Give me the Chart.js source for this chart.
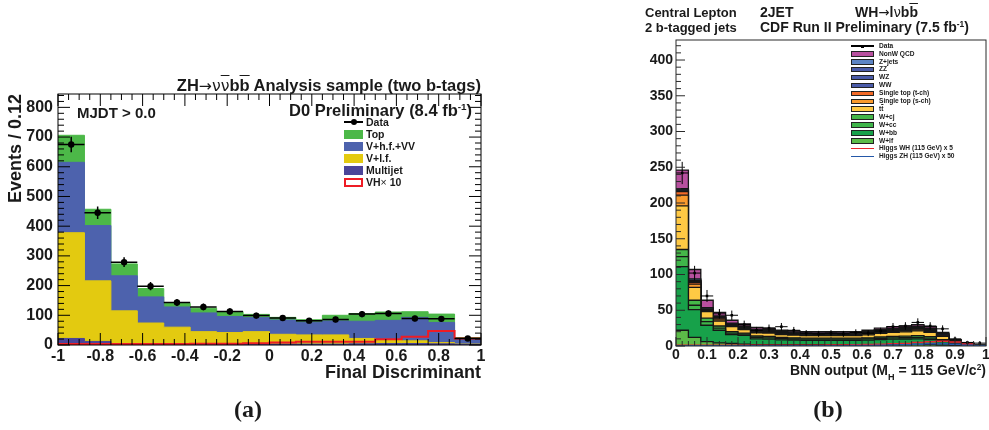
<!DOCTYPE html>
<html lang="en">
<head>
<meta charset="UTF-8">
<title>ZH / WH final discriminants</title>
<script src="https://cdn.jsdelivr.net/npm/chart.js"></script>
<style>
    body {
        margin: 0;
        background: #fff;
        font-family: 'Liberation Sans', Arial, sans-serif;
        color: #1a1a1a;
    }
    #page { position: relative; width: 989px; height: 430px; overflow: hidden; }
    canvas { position: absolute; top: 0; }
    #dz { left: 0; }
    #cdf { left: 600px; }
    .txt { position: absolute; font-weight: bold; line-height: 1; white-space: nowrap; }
    .thin { font-weight: normal; }
    .sy { font-family: 'DejaVu Sans', sans-serif; font-weight: normal; font-size: 0.95em; }
    .ov { text-decoration: overline; }
    sup { font-size: 0.6em; vertical-align: 0.6em; line-height: 0; }
    sub { font-size: 0.65em; vertical-align: -0.55em; line-height: 0; }
    .panel {
        position: absolute; width: 80px; text-align: center; line-height: 1;
        font-family: 'Liberation Serif', serif; font-weight: bold; font-size: 24px;
    }
    .sym { position: absolute; box-sizing: border-box; }
</style>
</head>
<body>
<div id="page">
    <canvas id="dz" width="490" height="430" style="width:490px;height:430px"></canvas>
    <canvas id="cdf" width="391" height="430" style="width:391px;height:430px"></canvas>

    <!-- left panel texts -->
    <div class="txt" style="right:508px;top:77px;font-size:16.5px">ZH<span class="sy">&rarr;&nu;<span class="ov">&nu;</span></span>b<span class="ov">b</span> Analysis sample (two b-tags)</div>
    <div class="txt" style="left:77px;top:105px;font-size:15px">MJDT &gt; 0.0</div>
    <div class="txt" style="right:517px;top:102px;font-size:16.5px">D0 Preliminary (8.4 fb<sup>-1</sup>)</div>
    <div class="panel" style="left:208px;top:397px">(a)</div>

    <!-- right panel texts -->
    <div class="txt" style="left:645px;top:6px;font-size:13px">Central Lepton</div>
    <div class="txt" style="left:645px;top:21px;font-size:13px">2 b-tagged jets</div>
    <div class="txt" style="left:760px;top:5px;font-size:14px">2JET</div>
    <div class="txt" style="left:855px;top:5px;font-size:14px">WH<span class="sy">&rarr;</span>l<span class="sy">&nu;</span>b<span class="ov">b</span></div>
    <div class="txt" style="left:760px;top:20px;font-size:14px">CDF Run II Preliminary (7.5 fb<sup>-1</sup>)</div>
    <div class="txt" style="right:3px;top:363px;font-size:14px">BNN output (M<sub>H</sub> = 115 GeV/c<sup>2</sup>)</div>
    <div class="panel" style="left:788px;top:397px">(b)</div>
</div>

<script>
    Chart.defaults.font.family = "'Liberation Sans', Arial, sans-serif";
    Chart.defaults.color = '#1a1a1a';

    // ---- D0 ZH -> vvbb, 16 bins from -1 to 1 ----
    const dzLow = -1, dzWidth = 0.125;
    const dzXTicks = [-1, -0.8, -0.6, -0.4, -0.2, 0, 0.2, 0.4, 0.6, 0.8, 1];
    const dzYTicks = [0, 100, 200, 300, 400, 500, 600, 700, 800];
    const dzData     = [675, 445, 279, 198, 143, 128, 113, 99, 91, 82, 86, 104, 106, 89, 88, 22];
    const dzMultijet = [22, 12, 5, 4, 4, 3, 3, 3, 3, 3, 3, 4, 5, 5, 4, 2];
    const dzVlf      = [356, 204, 110, 70, 56, 42, 39, 42, 33, 31, 31, 18, 12, 9, 4, 1];
    const dzVhf      = [237, 186, 118, 88, 68, 63, 54, 47, 48, 43, 47, 58, 66, 79, 68, 17];
    const dzTop      = [91, 55, 40, 28, 12, 16, 16, 11, 9, 8, 19, 26, 28, 19, 28, 5];
    const dzVH10     = [3, 3, 3, 3, 3, 4, 4, 6, 8, 11, 11, 11, 19, 28, 47, 22];

    // ---- CDF WH -> lvbb, 25 bins from 0 to 1 ----
    const cdfLow = 0, cdfWidth = 0.04;
    const cdfXTicks = [0, 0.1, 0.2, 0.3, 0.4, 0.5, 0.6, 0.7, 0.8, 0.9, 1];
    const cdfYTicks = [0, 50, 100, 150, 200, 250, 300, 350, 400];
    const cdfData  = [242, 102, 70, 45, 43, 30, 22, 25, 27, 22, 18, 17, 18, 17, 19, 18, 21, 27, 28, 33, 28, 24, 10, 5, 4];
    const cdfWlf   = [22, 12, 6, 4.5, 3.5, 2.5, 2, 2, 2, 2, 2, 2, 2, 2, 2, 2, 2, 2, 2, 2, 1.8, 1.2, 0.5, 0.2, 0.05];
    const cdfWbb   = [89, 39, 23, 17.5, 12.5, 12.5, 8, 7.5, 6.5, 6.2, 6, 6, 6, 6, 6, 6.3, 7, 7.5, 7.8, 8, 7.2, 5, 2.5, 1.2, 0.3];
    const cdfWcc   = [14, 6, 5, 3, 2, 1.5, 2, 2, 1.7, 1.6, 1.5, 1.5, 1.5, 1.5, 1.5, 1.6, 1.8, 2, 2, 2.2, 2, 1.4, 0.7, 0.3, 0.1];
    const cdfWcj   = [10, 7, 5, 3, 2, 1.5, 2, 2, 1.7, 1.6, 1.5, 1.5, 1.5, 1.5, 1.5, 1.6, 1.8, 2, 2, 2.2, 2, 1.4, 0.7, 0.3, 0.1];
    const cdfTtbar = [61, 18, 9, 7, 7, 5, 4.5, 4.5, 4, 3.8, 3.5, 3.5, 3.5, 3.5, 3.5, 4.2, 5, 5.5, 6, 6.8, 6, 4.5, 2, 0.9, 0.2];
    const cdfStopS = [15, 4.5, 1.5, 2.5, 1.5, 1.5, 1, 1, 0.8, 0.8, 0.7, 0.7, 0.7, 0.7, 0.7, 0.8, 0.9, 1, 1, 1.1, 1, 0.7, 0.3, 0.1, 0.03];
    const cdfStopT = [5, 2.5, 1, 1.5, 1, 1, 1, 1, 0.9, 0.8, 0.8, 0.8, 0.8, 0.8, 0.8, 0.9, 1, 1.1, 1.1, 1.2, 1.1, 0.8, 0.4, 0.2, 0.05];
    const cdfWW    = [1, 1.5, 0.5, 0.8, 0.5, 0.6, 0.8, 0.8, 0.7, 0.6, 0.6, 0.6, 0.6, 0.6, 0.6, 0.7, 0.8, 0.9, 0.9, 1, 0.9, 0.6, 0.3, 0.1, 0.03];
    const cdfWZ    = [1, 1, 0.5, 0.7, 0.5, 0.5, 0.6, 0.6, 0.5, 0.5, 0.5, 0.5, 0.5, 0.5, 0.5, 0.7, 0.9, 1, 1.1, 1.3, 1.2, 0.9, 0.4, 0.2, 0.05];
    const cdfZZ    = [0.5, 0.5, 0.3, 0.5, 0.3, 0.4, 0.3, 0.3, 0.3, 0.3, 0.3, 0.3, 0.3, 0.3, 0.3, 0.4, 0.5, 0.6, 0.6, 0.7, 0.6, 0.4, 0.2, 0.1, 0.02];
    const cdfZjets = [1.5, 2, 2, 1, 1.2, 1, 1.3, 1.3, 1.1, 1.1, 1, 1, 1, 1, 1, 1, 1.1, 1.1, 1.1, 1.1, 1, 0.7, 0.3, 0.1, 0.02];
    const cdfQCD   = [26, 13, 10.2, 5, 4, 3, 2.5, 2, 1.8, 1.7, 1.6, 1.6, 1.6, 1.6, 1.6, 1.8, 2.2, 2.3, 2.4, 2.4, 2.2, 1.4, 0.7, 0.3, 0.05];
    const cdfWH5   = [1, 1, 1, 1, 1, 1, 1, 1, 1, 1, 1, 1.2, 1.3, 1.5, 1.7, 2, 2.3, 3, 3.5, 5, 6, 6.5, 5.5, 2.8, 0.5];
    const cdfZH50  = [0.3, 0.3, 0.3, 0.3, 0.3, 0.3, 0.3, 0.3, 0.3, 0.3, 0.3, 0.4, 0.4, 0.5, 0.6, 0.8, 1, 1.3, 1.8, 2.5, 3, 3.2, 2.6, 1.2, 0.3];

    // histogram contour: one point per low edge, plus the last upper edge
    function steps(values, low, width) {
        const pts = values.map((v, i) => ({x: low + i * width, y: v}));
        pts.push({x: low + values.length * width, y: values[values.length - 1]});
        return pts;
    }

    function centers(values, low, width) {
        return values.map((v, i) => ({x: low + (i + 0.5) * width, y: v}));
    }

    // ROOT style frame with inner ticks
    function rootFrame(o) {
        return {
            id: 'rootFrame',
            afterDatasetsDraw(chart) {
                const {ctx, chartArea: a, scales: {x, y}} = chart;
                ctx.save();
                ctx.strokeStyle = o.color;
                ctx.lineWidth = 1;
                ctx.strokeRect(a.left, a.top, a.right - a.left, a.bottom - a.top);
                ctx.beginPath();
                const nx = Math.round((x.max - x.min) / o.xMinor);
                for (let i = 0; i <= nx; i++) {
                    const px = x.getPixelForValue(x.min + i * o.xMinor);
                    const len = i % o.xEvery === 0 ? o.major : o.minor;
                    ctx.moveTo(px, a.bottom); ctx.lineTo(px, a.bottom - len);
                    if (o.mirror) { ctx.moveTo(px, a.top); ctx.lineTo(px, a.top + len); }
                }
                const ny = Math.floor((y.max - y.min) / o.yMinor + 1e-9);
                for (let i = 0; i <= ny; i++) {
                    const py = y.getPixelForValue(y.min + i * o.yMinor);
                    const len = i % o.yEvery === 0 ? o.major : o.minor;
                    ctx.moveTo(a.left, py); ctx.lineTo(a.left + len, py);
                    if (o.mirror) { ctx.moveTo(a.right, py); ctx.lineTo(a.right - len, py); }
                }
                ctx.stroke();
                ctx.restore();
            }
        };
    }

    // data error bars: full bin width, sqrt(N) vertically
    function errorBars(values, low, width, lw) {
        return {
            id: 'errorBars',
            afterDatasetsDraw(chart) {
                const {ctx, chartArea: a, scales: {x, y}} = chart;
                ctx.save();
                ctx.beginPath();
                ctx.rect(a.left, a.top, a.right - a.left, a.bottom - a.top);
                ctx.clip();
                ctx.strokeStyle = '#000';
                ctx.lineWidth = lw;
                ctx.beginPath();
                values.forEach((v, i) => {
                    const lo = low + i * width, hi = lo + width, e = Math.sqrt(v);
                    const px = x.getPixelForValue(lo + width / 2), py = y.getPixelForValue(v);
                    ctx.moveTo(x.getPixelForValue(lo), py); ctx.lineTo(x.getPixelForValue(hi), py);
                    ctx.moveTo(px, y.getPixelForValue(v - e)); ctx.lineTo(px, y.getPixelForValue(v + e));
                });
                ctx.stroke();
                ctx.restore();
            }
        };
    }

    function layer(values, low, width, color, border, bw) {
        return {
            data: steps(values, low, width), stepped: true, fill: 'origin',
            backgroundColor: color, borderColor: border || color, borderWidth: bw || 1, pointRadius: 0
        };
    }

    function axes(o) {
        return {
            x: {
                type: 'linear', min: o.xMin, max: o.xMax, offset: false,
                grid: {display: false, drawTicks: false}, border: {display: false},
                afterBuildTicks: s => { s.ticks = o.xTicks.map(v => ({value: v})); },
                afterFit: s => { s.height = o.xHeight; },
                ticks: {autoSkip: false, maxRotation: 0, padding: o.xPad, callback: v => String(v),
                        font: {size: o.tickSize, weight: 'bold'}},
                title: o.xTitle ? {display: true, text: o.xTitle, align: 'end',
                        font: {size: 18, weight: 'bold'}, padding: {top: 0, bottom: 4}} : {display: false}
            },
            y: {
                stacked: true, min: 0, max: o.yMax,
                grid: {display: false, drawTicks: false}, border: {display: false},
                afterBuildTicks: s => { s.ticks = o.yTicks.map(v => ({value: v})); },
                afterFit: s => { s.width = o.yWidth; },
                ticks: {autoSkip: false, padding: o.yPad, font: {size: o.tickSize, weight: 'bold'}},
                title: o.yTitle ? {display: true, text: o.yTitle, align: 'end',
                        font: {size: 18, weight: 'bold'}, padding: {top: 5, bottom: 0}} : {display: false}
            }
        };
    }

    // ---- left chart ----
    new Chart(document.getElementById('dz'), {
        type: 'line',
        data: {
            datasets: [
                layer(dzMultijet, dzLow, dzWidth, '#4a4499'),
                layer(dzVlf, dzLow, dzWidth, '#e3ca10'),
                layer(dzVhf, dzLow, dzWidth, '#4d62ad'),
                layer(dzTop, dzLow, dzWidth, '#4cb848'),
                {data: steps(dzVH10, dzLow, dzWidth), stepped: true, fill: false, borderColor: '#ee1c25',
                 borderWidth: 2, pointRadius: 0, stack: 'sig', order: -1},
                {data: centers(dzData, dzLow, dzWidth), showLine: false, pointRadius: 3.2,
                 pointBackgroundColor: '#000', pointBorderWidth: 0, stack: 'obs', order: -2}
            ]
        },
        options: {
            responsive: false, animation: false, events: [],
            layout: {padding: {left: 0, top: 94, right: 9, bottom: 42}},
            plugins: {legend: {display: false}, tooltip: {enabled: false}},
            scales: axes({xMin: -1, xMax: 1, xTicks: dzXTicks, yMax: 845, yTicks: dzYTicks,
                          xHeight: 43, yWidth: 58, xPad: 2, yPad: 5, tickSize: 16,
                          xTitle: 'Final Discriminant', yTitle: 'Events / 0.12'})
        },
        plugins: [errorBars(dzData, dzLow, dzWidth, 1.5),
                  rootFrame({color: '#000', xMinor: 0.05, xEvery: 4, yMinor: 20, yEvery: 5,
                             major: 12, minor: 6, mirror: true})]
    });

    // ---- right chart ----
    const cdfColors = {
        qcd: '#b8509f', zjets: '#5c84c4', vv: '#4a5ba9', stopT: '#f36a27', stopS: '#f99a2d',
        tt: '#ffc944', wcj: '#45b649', wcc: '#3fb54a', wbb: '#17a14a', wlf: '#5cbb48'
    };
    const edge = '#161616';
    new Chart(document.getElementById('cdf'), {
        type: 'line',
        data: {
            datasets: [
                layer(cdfWlf, cdfLow, cdfWidth, cdfColors.wlf, edge, 1.3),
                layer(cdfWbb, cdfLow, cdfWidth, cdfColors.wbb, edge, 1.3),
                layer(cdfWcc, cdfLow, cdfWidth, cdfColors.wcc, edge, 1.3),
                layer(cdfWcj, cdfLow, cdfWidth, cdfColors.wcj, edge, 1.3),
                layer(cdfTtbar, cdfLow, cdfWidth, cdfColors.tt, edge, 1.3),
                layer(cdfStopS, cdfLow, cdfWidth, cdfColors.stopS, edge, 1.3),
                layer(cdfStopT, cdfLow, cdfWidth, cdfColors.stopT, edge, 1.3),
                layer(cdfWW, cdfLow, cdfWidth, cdfColors.vv, edge, 1.3),
                layer(cdfWZ, cdfLow, cdfWidth, cdfColors.vv, edge, 1.3),
                layer(cdfZZ, cdfLow, cdfWidth, cdfColors.vv, edge, 1.3),
                layer(cdfZjets, cdfLow, cdfWidth, cdfColors.zjets, edge, 1.3),
                layer(cdfQCD, cdfLow, cdfWidth, cdfColors.qcd, edge, 1.3),
                {data: steps(cdfZH50, cdfLow, cdfWidth), stepped: true, fill: false, borderColor: '#2457a8',
                 borderWidth: 1.5, pointRadius: 0, stack: 'zh', order: -1},
                {data: steps(cdfWH5, cdfLow, cdfWidth), stepped: true, fill: false, borderColor: '#e8262d',
                 borderWidth: 1.5, pointRadius: 0, stack: 'wh', order: -1},
                {data: centers(cdfData, cdfLow, cdfWidth), showLine: false, pointRadius: 1.8, pointStyle: 'rect',
                 pointBackgroundColor: '#000', pointBorderWidth: 0, stack: 'obs', order: -2}
            ]
        },
        options: {
            responsive: false, animation: false, events: [],
            layout: {padding: {left: 0, top: 40, right: 5, bottom: 54}},
            plugins: {legend: {display: false}, tooltip: {enabled: false}},
            scales: axes({xMin: 0, xMax: 1, xTicks: cdfXTicks, yMax: 428, yTicks: cdfYTicks,
                          xHeight: 30, yWidth: 76, xPad: 1, yPad: 3, tickSize: 14})
        },
        plugins: [errorBars(cdfData, cdfLow, cdfWidth, 1),
                  rootFrame({color: '#2a2a2a', xMinor: 0.02, xEvery: 5, yMinor: 10, yEvery: 5,
                             major: 9, minor: 5, mirror: false})]
    });

    // ---- legends (html) ----
    const page = document.getElementById('page');
    function addLegend(rows, o) {
        rows.forEach((r, i) => {
            const cy = o.y0 + i * o.dy;
            const s = document.createElement('div');
            s.className = 'sym';
            if (r.kind === 'box' || r.kind === 'outline') {
                s.style.cssText = `left:${o.x}px;top:${cy - o.h / 2}px;width:${o.w}px;height:${o.h}px;` +
                    (r.kind === 'box' ? `background:${r.color};border:${o.bw}px solid ${o.edge || r.color}`
                                      : `background:#fff;border:2px solid ${r.color}`);
                page.appendChild(s);
            } else {
                const lw = r.kind === 'data' ? 1.2 : 1.5;
                s.style.cssText = `left:${o.x}px;top:${cy - lw / 2}px;width:${o.w}px;height:${lw}px;background:${r.color}`;
                page.appendChild(s);
                if (r.kind === 'data') {
                    const d = document.createElement('div');
                    d.className = 'sym';
                    d.style.cssText = `left:${o.x + o.w / 2 - o.dot / 2}px;top:${cy - o.dot / 2}px;width:${o.dot}px;` +
                        `height:${o.dot}px;background:#000;border-radius:${o.round ? '50%' : '0'}`;
                    page.appendChild(d);
                }
            }
            const t = document.createElement('div');
            t.className = 'txt';
            t.style.cssText = `left:${o.tx}px;top:${cy - 0.49 * o.fs}px;font-size:${o.fs}px`;
            t.innerHTML = r.label;
            page.appendChild(t);
        });
    }

    addLegend([
        {kind: 'data', color: '#000', label: 'Data'},
        {kind: 'box', color: '#4cb848', label: 'Top'},
        {kind: 'box', color: '#4d62ad', label: 'V+h.f.+VV'},
        {kind: 'box', color: '#e3ca10', label: 'V+l.f.'},
        {kind: 'box', color: '#4a4499', label: 'Multijet'},
        {kind: 'outline', color: '#ee1c25', label: 'VH<span class="thin">&times;</span> 10'}
    ], {x: 344, w: 19, h: 9, bw: 0, y0: 122, dy: 12, tx: 366, fs: 10.5, dot: 6, round: true});

    addLegend([
        {kind: 'data', color: '#000', label: 'Data'},
        {kind: 'box', color: cdfColors.qcd, label: 'NonW QCD'},
        {kind: 'box', color: cdfColors.zjets, label: 'Z+jets'},
        {kind: 'box', color: cdfColors.vv, label: 'ZZ'},
        {kind: 'box', color: cdfColors.vv, label: 'WZ'},
        {kind: 'box', color: cdfColors.vv, label: 'WW'},
        {kind: 'box', color: cdfColors.stopT, label: 'Single top (t-ch)'},
        {kind: 'box', color: cdfColors.stopS, label: 'Single top (s-ch)'},
        {kind: 'box', color: cdfColors.tt, label: 't<span class="ov">t</span>'},
        {kind: 'box', color: cdfColors.wcj, label: 'W+cj'},
        {kind: 'box', color: cdfColors.wcc, label: 'W+cc'},
        {kind: 'box', color: cdfColors.wbb, label: 'W+bb'},
        {kind: 'box', color: cdfColors.wlf, label: 'W+lf'},
        {kind: 'line', color: '#e8262d', label: 'Higgs WH (115 GeV) x 5'},
        {kind: 'line', color: '#2457a8', label: 'Higgs ZH (115 GeV) x 50'}
    ], {x: 851, w: 23, h: 5.5, bw: 1, edge: '#222', y0: 46, dy: 7.9, tx: 879, fs: 6.6, dot: 3, round: false});
</script>
</body>
</html>
